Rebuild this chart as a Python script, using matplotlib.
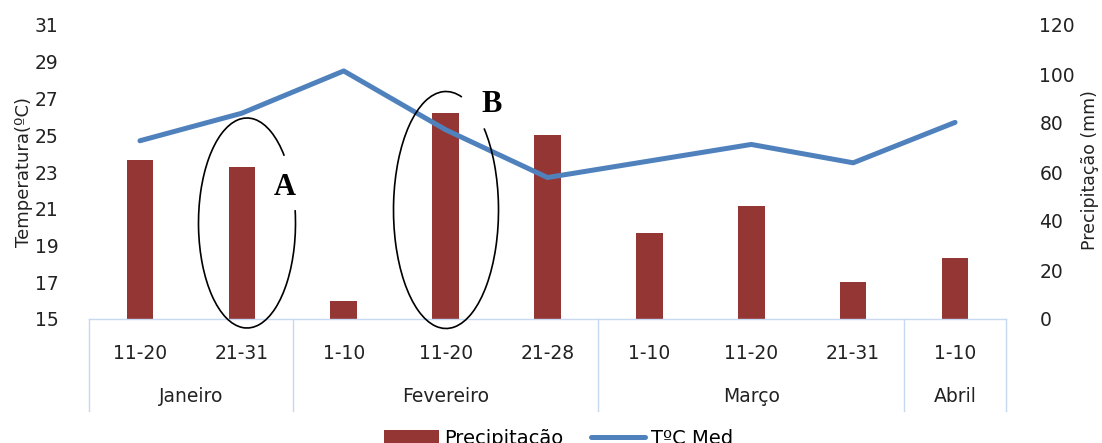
import matplotlib

matplotlib.use("Agg")
import matplotlib.pyplot as plt
import numpy as np
from matplotlib.patches import Arc
from matplotlib.transforms import blended_transform_factory

# data
periods = ["11-20", "21-31", "1-10", "11-20", "21-28", "1-10", "11-20", "21-31", "1-10"]
months = ["Janeiro", "Fevereiro", "Março", "Abril"]
month_sizes = [2, 3, 3, 1]
precip = [65, 62, 7.5, 84, 75, 35, 46, 15, 25]
temp = [24.7, 26.2, 28.5, 25.3, 22.7, 23.6, 24.5, 23.5, 25.7]

BAR = "#943634"
LINE = "#4f81bd"
SEP = "#c6d9f1"
W, H = 1102, 443
FS = 13.5

plt.rcParams["font.family"] = ["DejaVu Sans"]

fig = plt.figure(figsize=(W / 100, H / 100), dpi=100)
ax = fig.add_axes([89 / W, 124 / H, 917 / W, 294 / H])
ax2 = ax.twinx()
ax.set_zorder(ax2.get_zorder() + 1)
ax.patch.set_visible(False)

x = np.arange(len(periods))
bars = ax2.bar(x, precip, width=0.26, color=BAR)
(line,) = ax.plot(x, temp, color=LINE, lw=3.6, solid_capstyle="round")

ax.set_xlim(-0.5, len(periods) - 0.5)
ax.set_ylim(15, 31)
ax.set_yticks(np.arange(15, 32, 2))
ax2.set_ylim(0, 120)
ax2.set_yticks(np.arange(0, 121, 20))

for s in ax.spines.values():
    s.set_visible(False)
for s in ax2.spines.values():
    s.set_visible(False)
ax.spines["bottom"].set_visible(True)
ax.spines["bottom"].set_color(SEP)
ax.spines["bottom"].set_linewidth(1)

ax.set_xticks(x)
ax.set_xticklabels(periods)
ax.tick_params(axis="x", length=0, pad=18, labelsize=FS, colors="#222222")
ax.tick_params(axis="y", length=0, pad=22, labelsize=FS, colors="#222222")
ax2.tick_params(axis="y", length=0, pad=24, labelsize=FS, colors="#222222")

# month grouping below the period labels
blend = blended_transform_factory(ax.transData, ax.transAxes)
edges = np.concatenate([[0], np.cumsum(month_sizes)]) - 0.5
for e in edges:
    ax.plot([e, e], [0, -0.313], transform=blend, clip_on=False, color=SEP, lw=1)
for m, a, b in zip(months, edges[:-1], edges[1:]):
    ax.text((a + b) / 2, -0.262, m, transform=blend, ha="center", va="center",
            fontsize=FS, color="#222222")

fig.text(24 / W, 271 / H, "Temperatura(ºC)", rotation=90, ha="center", va="center",
         fontsize=13, color="#222222")
fig.text(1090 / W, 273 / H, "Precipitação (mm)", rotation=90, ha="center", va="center",
         fontsize=12.5, color="#222222")

# hand-drawn ellipses with labels A and B (pixel overlay)
ov = fig.add_axes([0, 0, 1, 1], zorder=10)
ov.set_xlim(0, W)
ov.set_ylim(0, H)
ov.axis("off")
ov.add_patch(Arc((247, 220), 97, 210, theta1=61, theta2=375, color="black", lw=1.2))
ov.add_patch(Arc((446, 233), 105, 237, theta1=82, theta2=425, color="black", lw=1.2))
ov.text(285, 256, "A", family="Liberation Serif", weight="bold", fontsize=22,
        ha="center", va="center")
ov.text(492, 339, "B", family="Liberation Serif", weight="bold", fontsize=22,
        ha="center", va="center")

fig.legend([bars, line], ["Precipitação", "TºC Med"], loc="center",
           bbox_to_anchor=(0.507, 0.01), ncol=2, frameon=False, fontsize=14,
           handlelength=2.8, handletextpad=0.3, columnspacing=1.4)

fig.savefig("out.png", dpi=100)
plt.close(fig)
